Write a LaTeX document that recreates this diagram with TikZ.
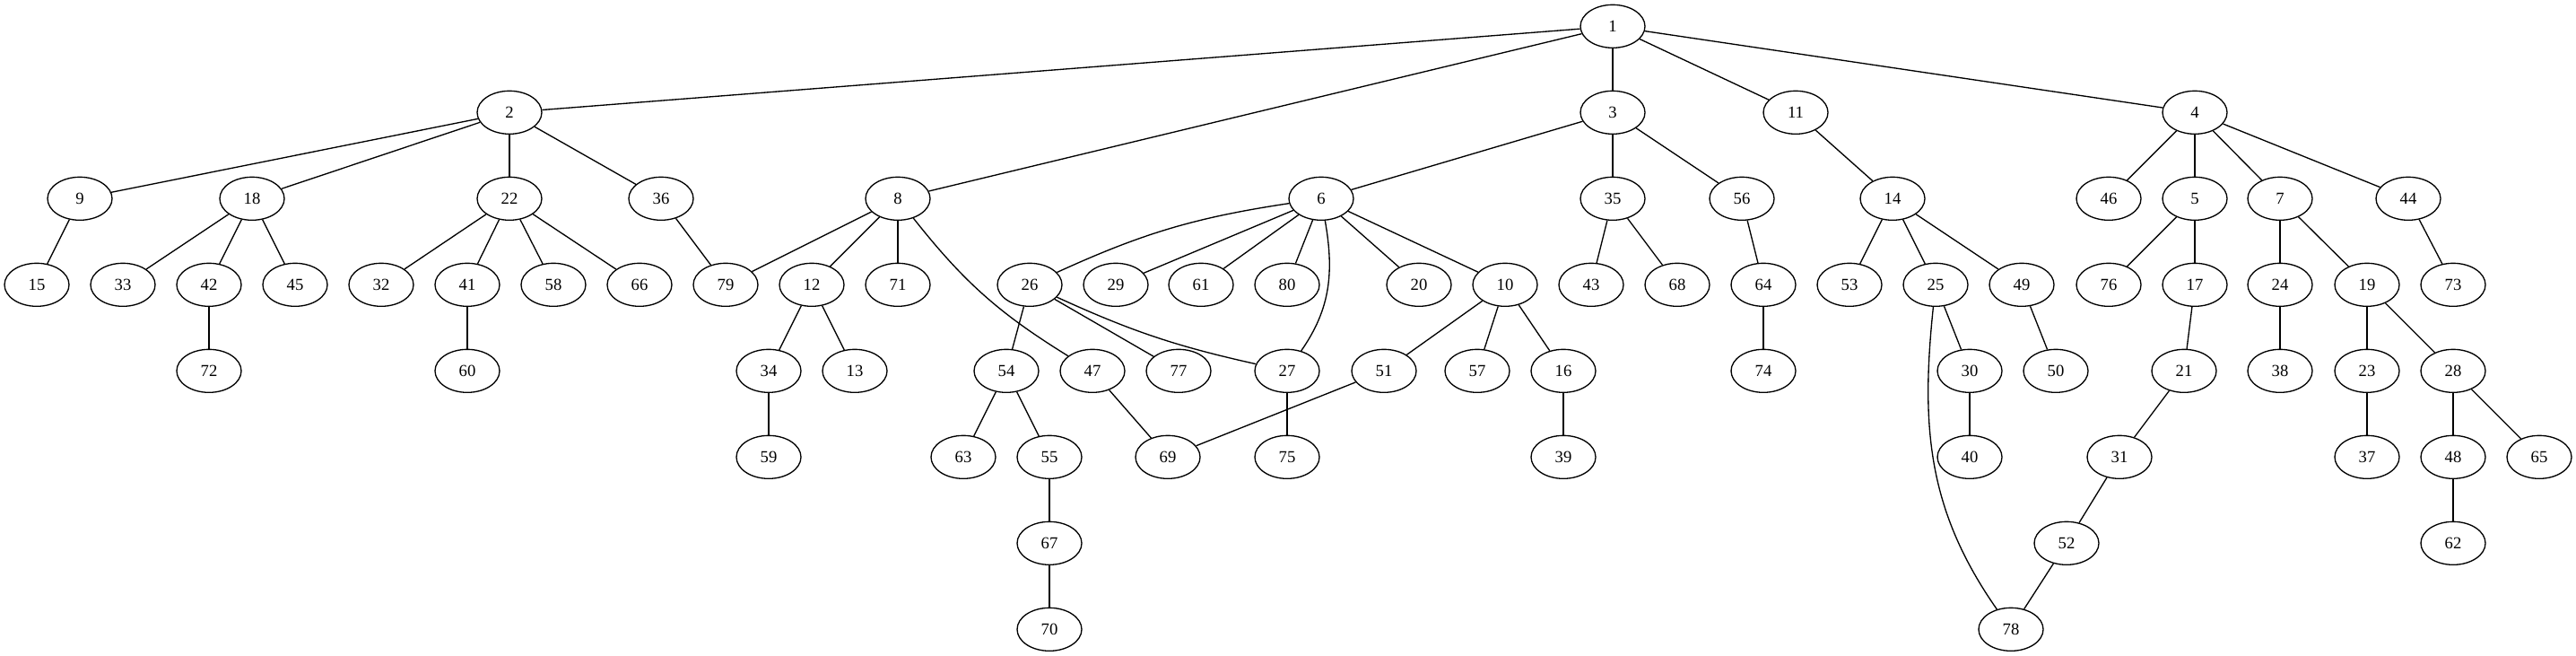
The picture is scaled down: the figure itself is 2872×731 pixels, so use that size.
\documentclass[tikz,border=0pt]{standalone}
\usepackage{fontspec}
\setmainfont{Liberation Serif}
\usetikzlibrary{shapes.geometric}

\begin{document}
\begin{tikzpicture}[
  x=0.75pt, y=0.75pt,
  vtx/.style={draw, ellipse, line width=1pt, inner sep=0pt,
    minimum width=54pt, minimum height=36pt,
    font=\fontsize{14pt}{16pt}\selectfont},
  lnk/.style={line width=1pt}
]

\useasboundingbox (0,29.33) rectangle (2872,-701.67);

% rank 0 and 1
\node [vtx] (n1) at (1798,0) {1};
\node [vtx] (n2) at (568,-96) {2};
\node [vtx] (n3) at (1798,-96) {3};
\node [vtx] (n11) at (2002,-96) {11};
\node [vtx] (n4) at (2447,-96) {4};

% rank 2
\node [vtx] (n9) at (89,-192) {9};
\node [vtx] (n18) at (281,-192) {18};
\node [vtx] (n22) at (568,-192) {22};
\node [vtx] (n36) at (737,-192) {36};
\node [vtx] (n8) at (1001,-192) {8};
\node [vtx] (n6) at (1473,-192) {6};
\node [vtx] (n35) at (1798,-192) {35};
\node [vtx] (n56) at (1942,-192) {56};
\node [vtx] (n14) at (2110,-192) {14};
\node [vtx] (n46) at (2351,-192) {46};
\node [vtx] (n5) at (2447,-192) {5};
\node [vtx] (n7) at (2542,-192) {7};
\node [vtx] (n44) at (2685,-192) {44};

% rank 3
\node [vtx] (n15) at (41,-288) {15};
\node [vtx] (n33) at (137,-288) {33};
\node [vtx] (n42) at (233,-288) {42};
\node [vtx] (n45) at (329,-288) {45};
\node [vtx] (n32) at (425,-288) {32};
\node [vtx] (n41) at (521,-288) {41};
\node [vtx] (n58) at (617,-288) {58};
\node [vtx] (n66) at (713,-288) {66};
\node [vtx] (n79) at (809,-288) {79};
\node [vtx] (n12) at (905,-288) {12};
\node [vtx] (n71) at (1001,-288) {71};
\node [vtx] (n26) at (1148,-288) {26};
\node [vtx] (n29) at (1244,-288) {29};
\node [vtx] (n61) at (1339,-288) {61};
\node [vtx] (n80) at (1435,-288) {80};
\node [vtx] (n20) at (1582,-288) {20};
\node [vtx] (n10) at (1678,-288) {10};
\node [vtx] (n43) at (1774,-288) {43};
\node [vtx] (n68) at (1870,-288) {68};
\node [vtx] (n64) at (1966,-288) {64};
\node [vtx] (n53) at (2062,-288) {53};
\node [vtx] (n25) at (2158,-288) {25};
\node [vtx] (n49) at (2254,-288) {49};
\node [vtx] (n76) at (2351,-288) {76};
\node [vtx] (n17) at (2447,-288) {17};
\node [vtx] (n24) at (2542,-288) {24};
\node [vtx] (n19) at (2639,-288) {19};
\node [vtx] (n73) at (2735,-288) {73};

% rank 4
\node [vtx] (n72) at (233,-384) {72};
\node [vtx] (n60) at (521,-384) {60};
\node [vtx] (n34) at (857,-384) {34};
\node [vtx] (n13) at (953,-384) {13};
\node [vtx] (n54) at (1122,-384) {54};
\node [vtx] (n47) at (1218,-384) {47};
\node [vtx] (n77) at (1314,-384) {77};
\node [vtx] (n27) at (1435,-384) {27};
\node [vtx] (n51) at (1543,-384) {51};
\node [vtx] (n57) at (1647,-384) {57};
\node [vtx] (n16) at (1743,-384) {16};
\node [vtx] (n74) at (1966,-384) {74};
\node [vtx] (n30) at (2196,-384) {30};
\node [vtx] (n50) at (2292,-384) {50};
\node [vtx] (n21) at (2435,-384) {21};
\node [vtx] (n38) at (2542,-384) {38};
\node [vtx] (n23) at (2639,-384) {23};
\node [vtx] (n28) at (2735,-384) {28};

% rank 5
\node [vtx] (n59) at (857,-480) {59};
\node [vtx] (n63) at (1074,-480) {63};
\node [vtx] (n55) at (1170,-480) {55};
\node [vtx] (n69) at (1302,-480) {69};
\node [vtx] (n75) at (1435,-480) {75};
\node [vtx] (n39) at (1743,-480) {39};
\node [vtx] (n40) at (2196,-480) {40};
\node [vtx] (n31) at (2363,-480) {31};
\node [vtx] (n37) at (2639,-480) {37};
\node [vtx] (n48) at (2735,-480) {48};
\node [vtx] (n65) at (2831,-480) {65};

% rank 6 and 7
\node [vtx] (n67) at (1170,-576) {67};
\node [vtx] (n52) at (2304,-576) {52};
\node [vtx] (n62) at (2735,-576) {62};
\node [vtx] (n70) at (1170,-672) {70};
\node [vtx] (n78) at (2242,-672) {78};

% edges
\draw [lnk] (n1) -- (n2);
\draw [lnk] (n1) -- (n8);
\draw [lnk] (n1) -- (n3);
\draw [lnk] (n1) -- (n11);
\draw [lnk] (n1) -- (n4);
\draw [lnk] (n2) -- (n9);
\draw [lnk] (n2) -- (n18);
\draw [lnk] (n2) -- (n22);
\draw [lnk] (n2) -- (n36);
\draw [lnk] (n9) -- (n15);
\draw [lnk] (n18) -- (n33);
\draw [lnk] (n18) -- (n42);
\draw [lnk] (n18) -- (n45);
\draw [lnk] (n42) -- (n72);
\draw [lnk] (n22) -- (n32);
\draw [lnk] (n22) -- (n41);
\draw [lnk] (n22) -- (n58);
\draw [lnk] (n22) -- (n66);
\draw [lnk] (n41) -- (n60);
\draw [lnk] (n36) -- (n79);
\draw [lnk] (n8) -- (n79);
\draw [lnk] (n8) -- (n12);
\draw [lnk] (n8) -- (n71);
\draw [lnk] (n8) to [bend right=10] (n47);
\draw [lnk] (n12) -- (n34);
\draw [lnk] (n12) -- (n13);
\draw [lnk] (n34) -- (n59);
\draw [lnk] (n3) -- (n6);
\draw [lnk] (n3) -- (n35);
\draw [lnk] (n3) -- (n56);
\draw [lnk] (n6) to [bend right=8] (n26);
\draw [lnk] (n6) -- (n29);
\draw [lnk] (n6) -- (n61);
\draw [lnk] (n6) -- (n80);
\draw [lnk] (n6) to [out=-80, in=55] (n27);
\draw [lnk] (n6) -- (n20);
\draw [lnk] (n6) -- (n10);
\draw [lnk] (n26) -- (n54);
\draw [lnk] (n26) -- (n77);
\draw [lnk] (n26) to [bend right=6] (n27);
\draw [lnk] (n54) -- (n63);
\draw [lnk] (n54) -- (n55);
\draw [lnk] (n55) -- (n67);
\draw [lnk] (n67) -- (n70);
\draw [lnk] (n47) -- (n69);
\draw [lnk] (n27) -- (n75);
\draw [lnk] (n10) -- (n51);
\draw [lnk] (n10) -- (n57);
\draw [lnk] (n10) -- (n16);
\draw [lnk] (n51) -- (n69);
\draw [lnk] (n16) -- (n39);
\draw [lnk] (n35) -- (n43);
\draw [lnk] (n35) -- (n68);
\draw [lnk] (n56) -- (n64);
\draw [lnk] (n64) -- (n74);
\draw [lnk] (n11) -- (n14);
\draw [lnk] (n14) -- (n53);
\draw [lnk] (n14) -- (n25);
\draw [lnk] (n14) -- (n49);
\draw [lnk] (n25) -- (n30);
\draw [lnk] (n25) to [out=-96, in=125] (n78);
\draw [lnk] (n30) -- (n40);
\draw [lnk] (n49) -- (n50);
\draw [lnk] (n4) -- (n46);
\draw [lnk] (n4) -- (n5);
\draw [lnk] (n4) -- (n7);
\draw [lnk] (n4) -- (n44);
\draw [lnk] (n5) -- (n76);
\draw [lnk] (n5) -- (n17);
\draw [lnk] (n17) -- (n21);
\draw [lnk] (n21) -- (n31);
\draw [lnk] (n31) -- (n52);
\draw [lnk] (n52) -- (n78);
\draw [lnk] (n7) -- (n24);
\draw [lnk] (n7) -- (n19);
\draw [lnk] (n24) -- (n38);
\draw [lnk] (n19) -- (n23);
\draw [lnk] (n19) -- (n28);
\draw [lnk] (n23) -- (n37);
\draw [lnk] (n28) -- (n48);
\draw [lnk] (n28) -- (n65);
\draw [lnk] (n48) -- (n62);
\draw [lnk] (n44) -- (n73);

\end{tikzpicture}
\end{document}
